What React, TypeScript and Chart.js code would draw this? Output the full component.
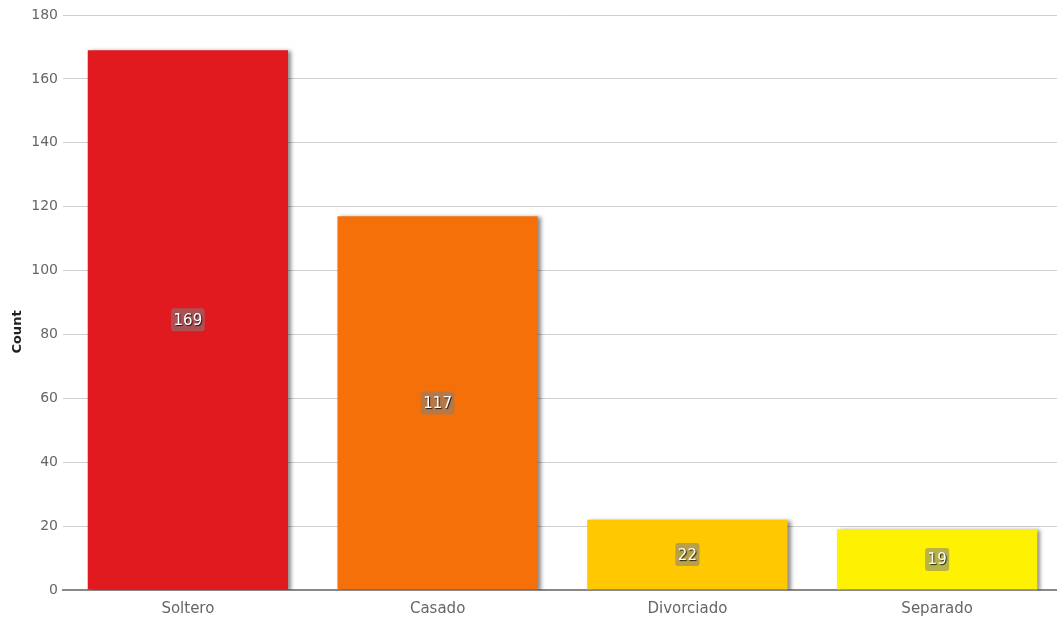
import React, { useEffect, useRef } from "react";
import { Chart, registerables } from "chart.js";

Chart.register(...registerables);

const categories = ["Soltero", "Casado", "Divorciado", "Separado"];
const counts = [169, 117, 22, 19];
const barColors = ["#e01a1f", "#f57008", "#ffc800", "#fff200"];
const yAxisTitle = "Count";

const FONT = '"DejaVu Sans", Verdana, sans-serif';

const shadowPlugin = {
  id: "barShadow",
  beforeDatasetsDraw(chart: any) {
    const ctx = chart.ctx;
    ctx.save();
    ctx.shadowColor = "rgba(0,0,0,0.45)";
    ctx.shadowBlur = 4;
    ctx.shadowOffsetX = 3;
    ctx.shadowOffsetY = 1;
  },
  afterDatasetsDraw(chart: any) {
    chart.ctx.restore();
  },
};

const labelPlugin = {
  id: "barLabels",
  afterDraw(chart: any) {
    const ctx = chart.ctx;
    const meta = chart.getDatasetMeta(0);
    ctx.save();
    ctx.font = `15px ${FONT}`;
    ctx.textAlign = "center";
    ctx.textBaseline = "middle";
    meta.data.forEach((bar: any, i: number) => {
      const text = String(chart.data.datasets[0].data[i]);
      const cx = bar.x;
      const cy = (bar.y + bar.base) / 2;
      const w = ctx.measureText(text).width + 5;
      const h = 23;
      ctx.fillStyle = "rgba(128,128,128,0.55)";
      ctx.beginPath();
      (ctx as any).roundRect(cx - w / 2, cy - h / 2, w, h, 3);
      ctx.fill();
      ctx.save();
      ctx.shadowColor = "rgba(0,0,0,0.8)";
      ctx.shadowBlur = 1;
      ctx.shadowOffsetX = 1;
      ctx.shadowOffsetY = 1;
      ctx.fillStyle = "#ffffff";
      ctx.fillText(text, cx, cy + 1);
      ctx.restore();
    });
    ctx.save();
    ctx.translate(18, 332);
    ctx.rotate(-Math.PI / 2);
    ctx.font = `bold 13px ${FONT}`;
    ctx.fillStyle = "#222";
    ctx.textAlign = "center";
    ctx.textBaseline = "middle";
    ctx.fillText(yAxisTitle, 0, 0);
    ctx.restore();
    ctx.restore();
  },
};

export default function App() {
  const ref = useRef<HTMLCanvasElement>(null);
  useEffect(() => {
    if (!ref.current) return;
    const chart = new Chart(ref.current, {
      type: "bar",
      data: {
        labels: categories,
        datasets: [
          {
            data: counts,
            backgroundColor: barColors,
            borderWidth: 0,
            barPercentage: 0.802,
            categoryPercentage: 1,
          },
        ],
      },
      options: {
        responsive: false,
        animation: false,
        layout: { padding: { top: 15, left: 0, right: 0, bottom: 0 } },
        plugins: { legend: { display: false }, tooltip: { enabled: false } },
        scales: {
          x: {
            grid: { display: false },
            border: { display: true, color: "#888", width: 2 },
            ticks: { font: { family: FONT, size: 15 }, color: "#666", padding: 2 },
            afterFit(scale: any) {
              scale.height = 30;
            },
          },
          y: {
            min: 0,
            max: 180,
            ticks: { stepSize: 20, font: { family: FONT, size: 14 }, color: "#666", padding: 5 },
            grid: { color: "#cfcfcf", lineWidth: 1, drawTicks: false },
            border: { display: false },
            afterFit(scale: any) {
              scale.width = 63;
            },
          },
        },
      },
      plugins: [shadowPlugin, labelPlugin],
    });
    return () => chart.destroy();
  }, []);
  return (
    <div style={{ position: "fixed", left: 0, top: 0, width: 1057, height: 620, overflow: "hidden", background: "#fff" }}>
      <canvas ref={ref} width={1062} height={620} style={{ display: "block" }} />
    </div>
  );
}
